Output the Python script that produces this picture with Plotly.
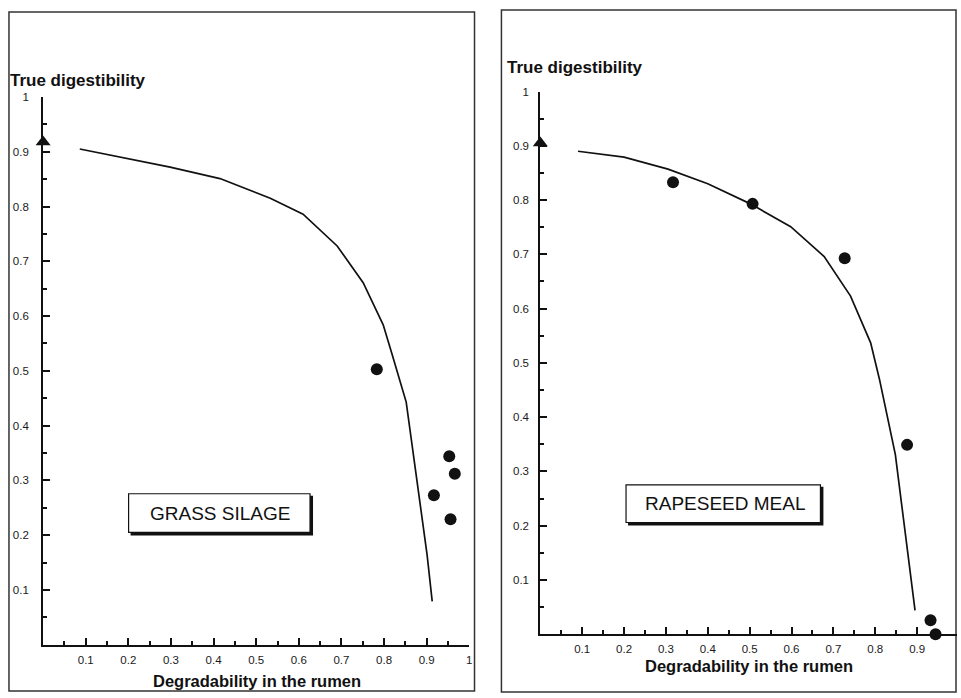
import plotly.graph_objects as go

W, H = 961, 698

# ---------------- data ----------------
# Grass silage (left panel)
gs_curve_x = [0.086, 0.181, 0.298, 0.415, 0.533, 0.61, 0.69, 0.751, 0.798, 0.819, 0.852, 0.901, 0.913]
gs_curve_y = [0.905, 0.890, 0.872, 0.851, 0.815, 0.786, 0.728, 0.661, 0.584, 0.53, 0.443, 0.164, 0.079]
gs_obs_x = [0.783, 0.953, 0.966, 0.917, 0.956]
gs_obs_y = [0.503, 0.344, 0.312, 0.273, 0.229]
gs_arrow_x = [0.0]
gs_arrow_y = [0.918]

# Rapeseed meal (right panel)
rm_curve_x = [0.09, 0.2, 0.305, 0.4, 0.502, 0.598, 0.678, 0.741, 0.789, 0.81, 0.848, 0.895]
rm_curve_y = [0.89, 0.879, 0.857, 0.83, 0.793, 0.751, 0.696, 0.623, 0.537, 0.47, 0.331, 0.044]
rm_obs_x = [0.317, 0.507, 0.727, 0.876, 0.932, 0.944]
rm_obs_y = [0.833, 0.793, 0.693, 0.349, 0.026, 0.0]
rm_arrow_x = [0.0]
rm_arrow_y = [0.905]

tick_vals = [0.1, 0.2, 0.3, 0.4, 0.5, 0.6, 0.7, 0.8, 0.9, 1.0]
tick_text = ["0.1", "0.2", "0.3", "0.4", "0.5", "0.6", "0.7", "0.8", "0.9", "1"]
minor_vals = [0.05, 0.15, 0.25, 0.35, 0.45, 0.55, 0.65, 0.75, 0.85, 0.95]

y_title = "True digestibility"
x_title = "Degradability in the rumen"
label_left = "GRASS SILAGE"
label_right = "RAPESEED MEAL"

# ---------------- helpers ----------------
def fx(p):
    return p / W

def fy(p):
    return 1 - p / H

FONT = "Liberation Sans, Arial, sans-serif"

fig = go.Figure()

def add_panel(cx, cy, ox, oy, ax, ay, xa, ya):
    fig.add_trace(go.Scatter(x=cx, y=cy, mode="lines", line=dict(color="#111", width=1.7),
                             xaxis=xa, yaxis=ya, cliponaxis=False, showlegend=False, hoverinfo="skip"))
    fig.add_trace(go.Scatter(x=ox, y=oy, mode="markers", marker=dict(color="#111", size=12),
                             xaxis=xa, yaxis=ya, cliponaxis=False, showlegend=False))
    fig.add_trace(go.Scatter(x=ax, y=ay, mode="markers", marker=dict(color="#111", size=13, symbol="triangle-up"),
                             xaxis=xa, yaxis=ya, cliponaxis=False, showlegend=False))

add_panel(gs_curve_x, gs_curve_y, gs_obs_x, gs_obs_y, gs_arrow_x, gs_arrow_y, "x", "y")
add_panel(rm_curve_x, rm_curve_y, rm_obs_x, rm_obs_y, rm_arrow_x, rm_arrow_y, "x2", "y2")

tickfont = dict(family=FONT, size=11.5, color="#1a1a1a")

def xaxis_cfg(dom, rng, anchor):
    return dict(domain=dom, range=rng, anchor=anchor, showline=True, linecolor="#111", linewidth=2,
                showgrid=False, zeroline=False, ticks="inside", ticklen=7, tickwidth=1.5, tickcolor="#111",
                tickmode="array", tickvals=tick_vals, ticktext=tick_text, tickfont=tickfont,
                ticklabelstandoff=3,
                minor=dict(tickmode="array", tickvals=minor_vals, ticks="inside", ticklen=4,
                           tickwidth=1.5, tickcolor="#111"))

def yaxis_cfg(dom, anchor, standoff):
    return dict(domain=dom, range=[0, 1], anchor=anchor, showline=True, linecolor="#111", linewidth=2,
                showgrid=False, zeroline=False, ticks="inside", ticklen=7, tickwidth=1.5, tickcolor="#111",
                tickmode="array", tickvals=tick_vals, ticktext=tick_text, tickfont=tickfont,
                ticklabelstandoff=standoff,
                minor=dict(tickmode="array", tickvals=minor_vals, ticks="inside", ticklen=4,
                           tickwidth=1.5, tickcolor="#111"))

layout = dict(
    width=W, height=H,
    margin=dict(l=0, r=0, t=0, b=0),
    paper_bgcolor="white", plot_bgcolor="rgba(0,0,0,0)",
    showlegend=False,
    xaxis=xaxis_cfg([fx(43.25), fx(470.75)], [0, 1], "y"),
    yaxis=yaxis_cfg([fy(644.25), fy(91.75)], "x", 10),
    xaxis2=xaxis_cfg([fx(542), fx(960)], [0, (960 - 542) / 420], "y2"),
    yaxis2=yaxis_cfg([fy(633.75), fy(86.25)], "x2", 7),
)
fig.update_layout(**layout)

shapes = []
def rect(x0, y0, x1, y1, **kw):
    shapes.append(dict(type="rect", xref="paper", yref="paper",
                       x0=fx(x0), x1=fx(x1), y0=fy(y1), y1=fy(y0), **kw))

# panel borders
rect(9, 6, 476, 691, line=dict(color="#333", width=1.5), layer="below")
rect(503, 4, 959, 692, line=dict(color="#333", width=1.5), layer="below")
# label boxes with shadow
rect(131, 494, 314, 534, line=dict(width=0), fillcolor="#111")
rect(129, 492, 311, 531, line=dict(color="#111", width=1.2), fillcolor="white")
rect(630, 485, 826, 524, line=dict(width=0), fillcolor="#111")
rect(628, 483, 823, 521, line=dict(color="#111", width=1.2), fillcolor="white")
fig.update_layout(shapes=shapes)

ann = []
def text(s, x, y, size, bold=False, xanchor="center"):
    ann.append(dict(text=s, x=fx(x), y=fy(y), xref="paper", yref="paper", showarrow=False,
                    xanchor=xanchor, yanchor="middle",
                    font=dict(family=FONT, size=size, color="#111", weight="bold" if bold else "normal")))

text(y_title, 8, 75, 17, bold=True, xanchor="left")
text(y_title, 507, 62, 17, bold=True, xanchor="left")
text(x_title, 258, 681, 16.5, bold=True)
text(x_title, 751, 666, 16.5, bold=True)
text(label_left, 221, 512, 19)
text(label_right, 728, 502, 19)
fig.update_layout(annotations=ann)

fig.write_html("out.html", config={"displayModeBar": False},
               post_script="document.body.style.margin='0';")
